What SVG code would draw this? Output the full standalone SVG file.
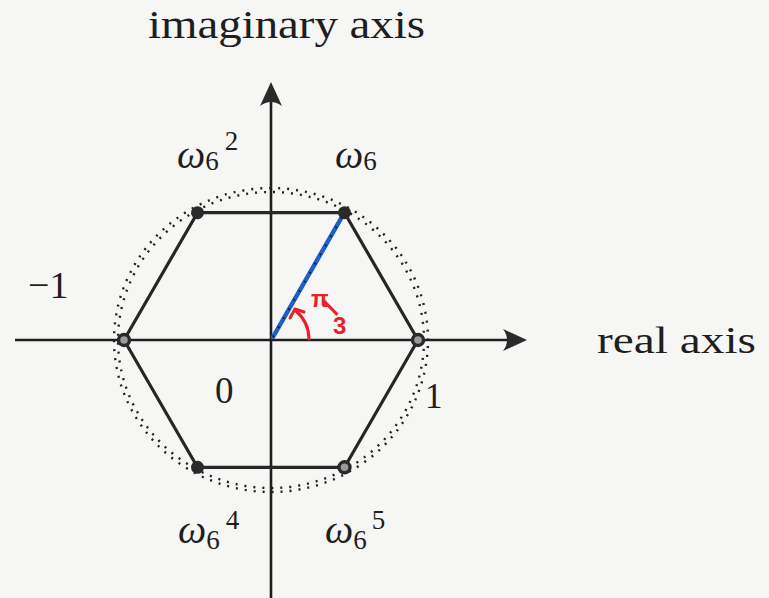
<svg xmlns="http://www.w3.org/2000/svg" width="769" height="598" viewBox="0 0 769 598">
<style>
.lbl{fill:#1e1e1e}
.om{font-style:italic;font-size:40px;fill:#1e1e1e}
.sub{font-size:27px;fill:#1e1e1e}
.axis{stroke:#1e1e1e;stroke-width:2.6;fill:none}
.hex{stroke:#262626;stroke-width:3.2;fill:none;stroke-linejoin:round}
.dots{stroke:#222;stroke-width:2.4;fill:none;stroke-dasharray:2 7}
.vfill{fill:#2a2a2a;stroke:#2a2a2a;stroke-width:2}
.vring{fill:#9a9a9a;stroke:#2a2a2a;stroke-width:3.4}
.head{fill:#2a2a2a}
.red{stroke:#e8202a;stroke-width:3;fill:none;stroke-linecap:round;stroke-linejoin:round}
.redt{fill:#e8202a}
</style>
<rect width="769" height="598" fill="#f6f6f4"/>

<g id="circle">
<ellipse class="dots" cx="271" cy="340" rx="153" ry="148"/>
<ellipse class="dots" cx="271" cy="340" rx="157" ry="152" stroke-dashoffset="3"/>
</g>

<g id="connectors">
<line class="axis" x1="15" y1="340" x2="512" y2="340"/>
<path class="head" d="M527,340 L503,329 Q511,340 503,351 Z"/>
<line class="axis" x1="271" y1="598" x2="271" y2="98"/>
<path class="head" d="M271,82 L260,106 Q271,98 282,106 Z"/>
<polygon class="hex" points="418,340 344.5,212.7 197.5,212.7 124,340 197.5,467.3 344.5,467.3"/>
<line x1="273" y1="337" x2="343" y2="215" stroke="#1f5fc8" stroke-width="4.5" stroke-linecap="round"/>
<line x1="273" y1="337" x2="343" y2="215" stroke="#111" stroke-width="2" stroke-dasharray="1.5 9"/>
<path class="red" d="M309,339 A38,38 0 0 0 296,311"/>
<path class="red" d="M290,318 L295,309 L304,312"/>
</g>

<g id="v0"><circle class="vring" cx="418" cy="340" r="5.5"/></g>
<g id="v1"><circle class="vfill" cx="344.5" cy="212.7" r="5.5"/></g>
<g id="v2"><circle class="vfill" cx="197.5" cy="212.7" r="5.5"/></g>
<g id="v3"><circle class="vring" cx="124" cy="340" r="5.5"/></g>
<g id="v4"><circle class="vfill" cx="197.5" cy="467.3" r="5.5"/></g>
<g id="v5"><circle class="vring" cx="344.5" cy="467.3" r="5.5"/></g>

<g id="labels" font-family="Liberation Serif, Times New Roman, serif">
<text class="lbl" x="148" y="38" font-size="40" textLength="277" lengthAdjust="spacingAndGlyphs">imaginary axis</text>
<text class="lbl" x="597" y="353" font-size="38" textLength="159" lengthAdjust="spacingAndGlyphs">real axis</text>
<text class="lbl" x="28" y="298" font-size="38">−1</text>
<text class="lbl" x="215" y="403" font-size="37">0</text>
<text class="lbl" x="425" y="408" font-size="35">1</text>

<text x="177" y="168"><tspan class="om">ω</tspan><tspan class="sub" dy="2">6</tspan><tspan class="sub" dx="6" dy="-20">2</tspan></text>
<text x="335" y="168"><tspan class="om">ω</tspan><tspan class="sub" dy="2">6</tspan></text>
<text x="178" y="543"><tspan class="om">ω</tspan><tspan class="sub" dy="6">6</tspan><tspan class="sub" dx="6" dy="-20">4</tspan></text>
<text x="325" y="543"><tspan class="om">ω</tspan><tspan class="sub" dy="6">6</tspan><tspan class="sub" dx="5" dy="-20">5</tspan></text>

<text class="redt" font-family="Liberation Sans, Arial, sans-serif" font-weight="bold" font-size="23" x="311" y="307">π<tspan x="336" y="316" rotate="-55" font-size="26">/</tspan><tspan x="333" y="334" font-size="24">3</tspan></text>
</g>
</svg>
